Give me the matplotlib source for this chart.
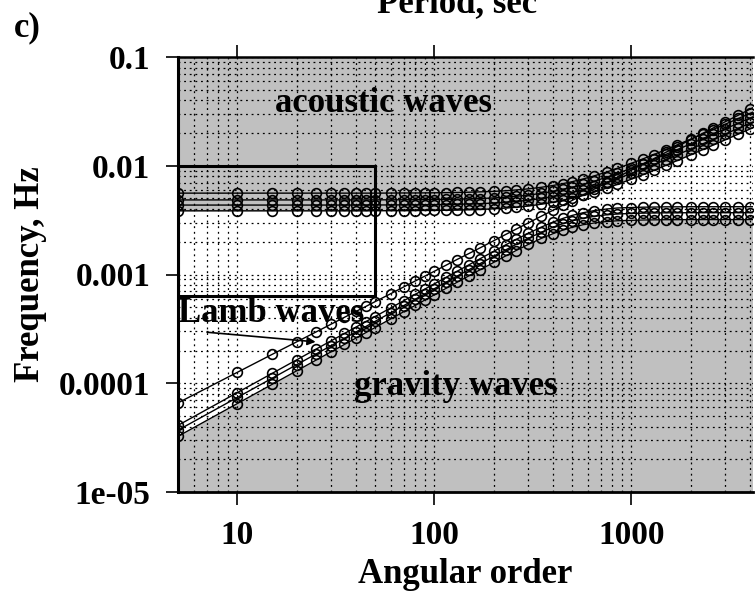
import matplotlib.pyplot as plt
from matplotlib.patches import Rectangle
from matplotlib.ticker import NullFormatter

plt.rcParams['font.family'] = 'Liberation Serif'
plt.rcParams['font.weight'] = 'bold'
plt.rcParams['axes.labelweight'] = 'bold'

# angular orders where the branches were sampled
l_order = [5, 10, 15, 20, 25, 30, 35, 40, 45, 50,
           60, 70, 80, 90, 100, 115, 130, 150, 170, 200,
           230, 260, 300, 350, 400, 450, 500, 570, 650, 750,
           850, 1000, 1150, 1300, 1500, 1700, 2000, 2300, 2600, 3000,
           3500, 4000, 4500]

# all frequencies below in mHz
lamb = [0.066, 0.126, 0.184, 0.240, 0.295, 0.350, 0.404, 0.457, 0.509, 0.562,
        0.665, 0.769, 0.871, 0.970, 1.07, 1.22, 1.37, 1.56, 1.75, 2.04,
        2.33, 2.61, 2.98, 3.44, 3.89, 4.34, 4.79, 5.41, 6.11, 6.98,
        7.83, 9.12, 10.4, 11.6, 13.3, 14.9, 17.4, 19.8, 22.2, 25.4,
        29.2, 33.1, 36.9]

acoustic_1 = [5.60, 5.60, 5.60, 5.60, 5.60, 5.60, 5.60, 5.60, 5.60, 5.60,
              5.61, 5.62, 5.62, 5.63, 5.64, 5.66, 5.68, 5.71, 5.75, 5.81,
              5.89, 5.99, 6.13, 6.34, 6.58, 6.85, 7.13, 7.56, 8.08, 8.76,
              9.46, 10.52, 11.59, 12.66, 14.08, 15.48, 17.54, 19.55, 21.53, 24.09,
              27.22, 30.26, 33.23]
acoustic_2 = [4.85, 4.85, 4.85, 4.85, 4.85, 4.85, 4.85, 4.85, 4.85, 4.86,
              4.86, 4.87, 4.87, 4.88, 4.89, 4.91, 4.93, 4.96, 4.99, 5.06,
              5.14, 5.23, 5.37, 5.58, 5.80, 6.06, 6.33, 6.73, 7.21, 7.85,
              8.49, 9.47, 10.45, 11.43, 12.72, 13.99, 15.87, 17.70, 19.49, 21.82,
              24.65, 27.41, 30.10]
acoustic_3 = [4.35, 4.35, 4.35, 4.35, 4.35, 4.35, 4.35, 4.35, 4.35, 4.36,
              4.36, 4.37, 4.37, 4.38, 4.39, 4.40, 4.42, 4.45, 4.48, 4.54,
              4.61, 4.69, 4.82, 5.00, 5.21, 5.43, 5.68, 6.04, 6.47, 7.04,
              7.61, 8.49, 9.38, 10.25, 11.41, 12.55, 14.23, 15.87, 17.48, 19.57,
              22.11, 24.58, 27.00]
acoustic_4 = [3.85, 3.85, 3.85, 3.85, 3.85, 3.85, 3.85, 3.85, 3.85, 3.86,
              3.86, 3.86, 3.87, 3.88, 3.88, 3.90, 3.91, 3.94, 3.96, 4.02,
              4.08, 4.15, 4.26, 4.43, 4.61, 4.81, 5.02, 5.34, 5.73, 6.23,
              6.74, 7.52, 8.30, 9.07, 10.10, 11.11, 12.59, 14.05, 15.47, 17.32,
              19.57, 21.76, 23.90]

gravity_1 = [0.041, 0.082, 0.123, 0.164, 0.205, 0.246, 0.287, 0.328, 0.369, 0.410,
             0.492, 0.574, 0.656, 0.738, 0.820, 0.943, 1.066, 1.228, 1.39, 1.63,
             1.87, 2.10, 2.39, 2.73, 3.03, 3.28, 3.49, 3.70, 3.87, 4.00,
             4.09, 4.13, 4.16, 4.17, 4.19, 4.19, 4.20, 4.20, 4.20, 4.20,
             4.20, 4.20, 4.20]
gravity_2 = [0.037, 0.074, 0.111, 0.148, 0.185, 0.222, 0.259, 0.296, 0.333, 0.370,
             0.444, 0.518, 0.592, 0.666, 0.740, 0.851, 0.962, 1.108, 1.254, 1.47,
             1.68, 1.89, 2.15, 2.45, 2.72, 2.94, 3.11, 3.29, 3.43, 3.54,
             3.60, 3.64, 3.67, 3.68, 3.69, 3.69, 3.70, 3.70, 3.70, 3.70,
             3.70, 3.70, 3.70]
gravity_3 = [0.0325, 0.065, 0.0975, 0.130, 0.1625, 0.195, 0.2275, 0.260, 0.2925, 0.325,
             0.390, 0.455, 0.520, 0.585, 0.650, 0.7475, 0.845, 0.973, 1.10, 1.29,
             1.48, 1.66, 1.89, 2.15, 2.37, 2.56, 2.71, 2.87, 2.98, 3.07,
             3.12, 3.15, 3.17, 3.18, 3.19, 3.19, 3.20, 3.20, 3.20, 3.20,
             3.20, 3.20, 3.20]

y_ticks = [1e-5, 1e-4, 1e-3, 1e-2, 1e-1]
y_tick_labels = ['1e-05', '0.0001', '0.001', '0.01', '0.1']
x_ticks = [10, 100, 1000]
x_tick_labels = ['10', '100', '1000']


def hz(values):
    return [v * 1e-3 for v in values]


fig = plt.figure(figsize=(7.56, 5.97), dpi=100)
ax = fig.add_axes([178 / 756, 105 / 597, 575 / 756, 435 / 597])
ax.set_xscale('log')
ax.set_yscale('log')
ax.set_facecolor('#c0c0c0')

# region between the lowest gravity and lowest acoustic branch stays white
ax.fill_between(l_order, hz(gravity_3), hz(acoustic_4), color='white', lw=0, zorder=1)

for branch in [lamb, acoustic_1, acoustic_2, acoustic_3, acoustic_4,
               gravity_1, gravity_2, gravity_3]:
    ax.plot(l_order, hz(branch), color='black', lw=1.0, marker='o', ms=7,
            mfc='none', mec='black', mew=1.2, zorder=2)

# zoom box
ax.add_patch(Rectangle((5, 6.3e-4), 45, 1e-2 - 6.3e-4, fill=False,
                       ec='black', lw=2.2, zorder=3))

ax.text(55, 0.031, 'acoustic waves', ha='center', va='baseline', fontsize=25, zorder=4)
ax.text(128, 7.8e-5, 'gravity waves', ha='center', va='baseline', fontsize=25, zorder=4)
ax.text(5.0, 3.66e-4, 'Lamb waves', ha='left', va='baseline', fontsize=25, zorder=4)
ax.annotate('', xy=(25.8, 2.39e-4), xytext=(6.8, 2.96e-4),
            arrowprops=dict(arrowstyle='-|>', color='black', lw=1.2, mutation_scale=12),
            zorder=4)

ax.set_xlim(5, 4150)
ax.set_ylim(1e-5, 0.1)
ax.set_xticks(x_ticks, labels=x_tick_labels)
ax.set_yticks(y_ticks, labels=y_tick_labels)
ax.xaxis.set_minor_formatter(NullFormatter())
ax.yaxis.set_minor_formatter(NullFormatter())

ax.grid(True, which='both', color='black', linestyle=(0, (1.5, 3)), linewidth=0.9)

ax.tick_params(axis='both', which='major', direction='out', length=9, width=1.2,
               labelsize=24, pad=11)
ax.tick_params(axis='x', top=True, bottom=True)
ax.tick_params(which='minor', length=0)

ax.spines['right'].set_visible(False)
ax.spines['left'].set_linewidth(2.2)
ax.spines['bottom'].set_linewidth(2.0)
ax.spines['top'].set_linewidth(1.8)

ax.set_xlabel('Angular order', fontsize=25)
ax.xaxis.set_label_coords(0.5, -0.152)
ax.xaxis.label.set_va('top')
ax.set_ylabel('Frequency, Hz', fontsize=25)
ax.yaxis.set_label_coords(-0.227, 0.5)

fig.text(457 / 756, 1 - 12 / 597, 'Period, sec', ha='center', va='baseline', fontsize=25)
fig.text(41 / 756, 1 - 36 / 597, 'c)', ha='right', va='baseline', fontsize=25)

fig.savefig('out.png', dpi=100)
